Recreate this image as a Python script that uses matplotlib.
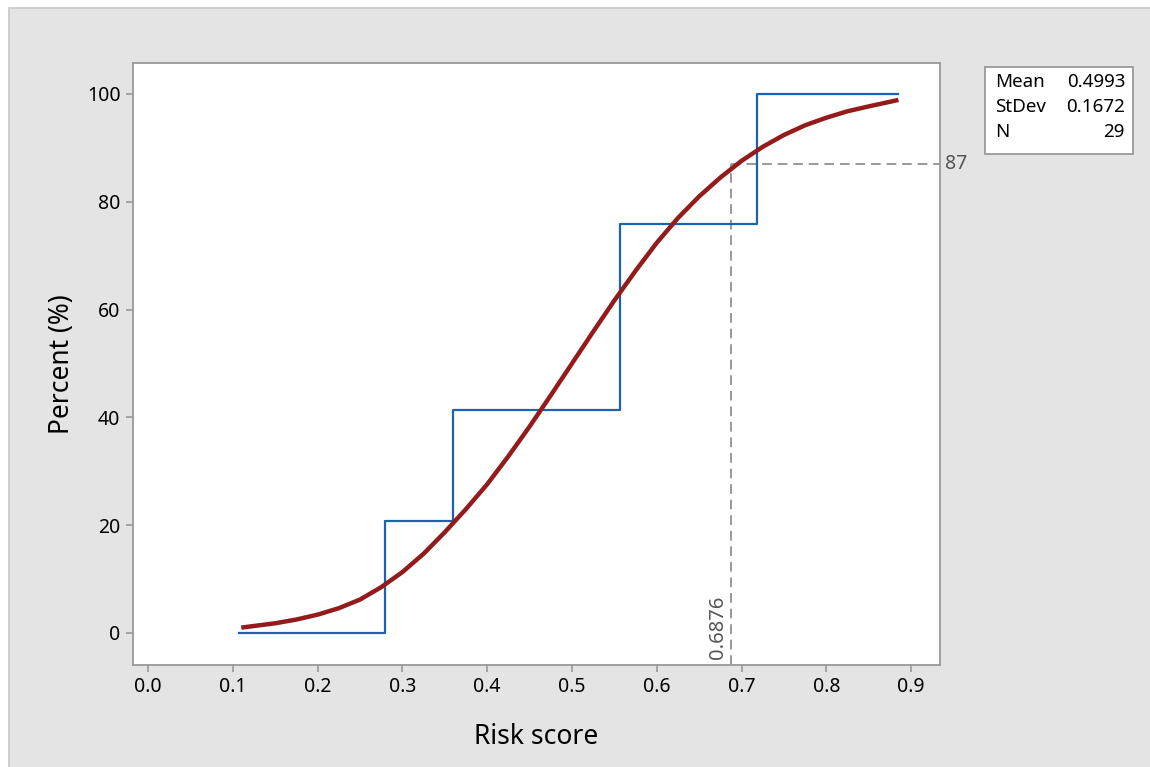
import matplotlib.pyplot as plt
from matplotlib.patches import Rectangle

plt.rcParams['font.family'] = ['Noto Sans', 'DejaVu Sans']

# empirical CDF steps (x, percent)
step_x = [0.107, 0.28, 0.36, 0.557, 0.718, 0.884]
step_y = [0.0, 20.7, 41.4, 75.9, 100.0, 100.0]

# fitted normal CDF
fit_x = [0.11, 0.125, 0.15, 0.175, 0.20, 0.225, 0.25, 0.275, 0.30, 0.325,
         0.35, 0.375, 0.40, 0.425, 0.45, 0.475, 0.50, 0.525, 0.55, 0.575,
         0.60, 0.625, 0.65, 0.675, 0.70, 0.725, 0.75, 0.775, 0.80, 0.825,
         0.85, 0.885]
fit_y = [1.0, 1.3, 1.8, 2.5, 3.4, 4.6, 6.2, 8.5, 11.3, 14.7,
         18.7, 23.0, 27.6, 32.8, 38.3, 44.1, 50.0, 55.9, 61.7, 67.2,
         72.4, 77.0, 81.0, 84.5, 87.6, 90.2, 92.4, 94.2, 95.6, 96.8,
         97.7, 98.9]

ref_x = 0.6876
ref_y = 87

stats_names = ["Mean", "StDev", "N"]
stats_vals = ["0.4993", "0.1672", "29"]

xticks = [0.0, 0.1, 0.2, 0.3, 0.4, 0.5, 0.6, 0.7, 0.8, 0.9]
yticks = [0, 20, 40, 60, 80, 100]

W, H = 1150, 767
fig = plt.figure(figsize=(11.5, 7.67), dpi=100, facecolor='white')

# grey panel behind everything
fig.patches.append(Rectangle((9 / W, -0.01), 1.02, (H - 8) / H + 0.01,
                             transform=fig.transFigure, facecolor='#e4e4e4',
                             edgecolor='#c8c8c8', linewidth=1.2, zorder=-10))

ax = fig.add_axes([133 / W, (H - 665) / H, (940 - 133) / W, (665 - 63) / H])
ax.set_facecolor('white')

ax.step(step_x, step_y, where='post', color='#1a62b3', lw=1.6, zorder=3)
ax.plot(fit_x, fit_y, color='#931b1b', lw=3.2, solid_capstyle='butt', zorder=4)

ax.set_xlim(-0.0177, 0.934)
ax.set_ylim(-5.94, 105.75)

ax.plot([ref_x, ref_x], [-5.94, ref_y], color='#999999', lw=1.4, ls=(0, (5, 3)), zorder=2)
ax.plot([ref_x, 0.934], [ref_y, ref_y], color='#999999', lw=1.4, ls=(0, (5, 3)), zorder=2)
ax.text(ref_x - 0.004, -4.8, f"{ref_x:.4f}", rotation=90, ha='right', va='bottom',
        fontsize=14.5, color='#555555')
ax.text(1.006, ref_y, str(ref_y), ha='left', va='center', fontsize=14,
        color='#555555', transform=ax.get_yaxis_transform(), clip_on=False)

ax.set_xticks(xticks)
ax.set_xticklabels([f"{v:.1f}" for v in xticks])
ax.set_yticks(yticks)
for s in ax.spines.values():
    s.set_color('#999999')
    s.set_linewidth(1.3)
ax.tick_params(direction='out', length=5, width=1.2, color='#999999',
               labelsize=14, labelcolor='black', pad=4)

ax.set_xlabel("Risk score", fontsize=19, labelpad=18)
ax.set_ylabel("Percent (%)", fontsize=19, labelpad=8)

# statistics box
fig.patches.append(Rectangle((985 / W, (H - 154) / H), (1133 - 985) / W, (154 - 67) / H,
                             transform=fig.transFigure, facecolor='white',
                             edgecolor='#999999', linewidth=1.3, zorder=1))
for i, (n, v) in enumerate(zip(stats_names, stats_vals)):
    yy = (H - (82 + i * 25)) / H
    fig.text(995 / W, yy, n, ha='left', va='center', fontsize=13.5)
    fig.text(1125 / W, yy, v, ha='right', va='center', fontsize=13.5)

fig.savefig('out.png', dpi=100)
